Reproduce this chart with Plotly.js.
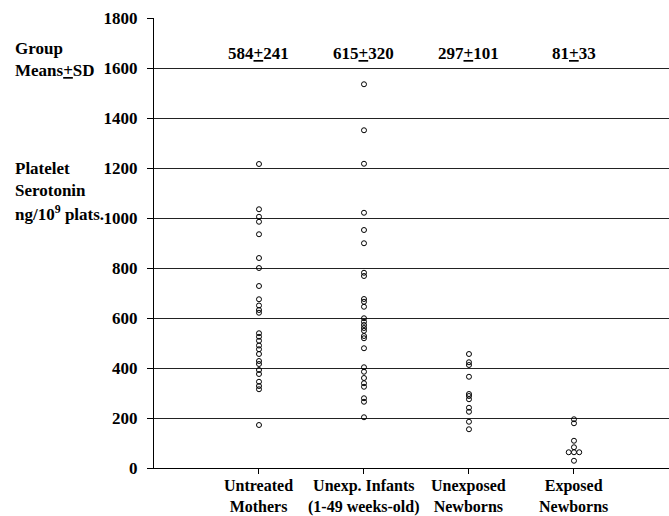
<!DOCTYPE html>
<html>
<head>
<meta charset="utf-8">
<script src="https://cdn.plot.ly/plotly-3.0.1.min.js"></script>
<style>html,body{margin:0;padding:0;background:#fff;}#chart{width:669px;height:516px;}</style>
</head>
<body>
<div id="chart"></div>
<script>
var categoriesLine1 = ["Untreated", "Unexp. Infants", "Unexposed", "Exposed"];
var categoriesLine2 = ["Mothers", "(1-49 weeks-old)", "Newborns", "Newborns"];
var groupMeans = ["584<u>+</u>241", "615<u>+</u>320", "297<u>+</u>101", "81<u>+</u>33"];

var untreatedMothers = [1216, 1035, 1005, 985, 935, 840, 800, 728, 675, 650, 632, 621, 539, 525, 509, 490, 475, 456, 428, 416, 392, 376, 345, 328, 315, 172];
var unexpInfants = [1535, 1351, 1217, 1021, 952, 899, 781, 768, 676, 665, 645, 599, 585, 572, 560, 549, 528, 519, 479, 403, 385, 360, 339, 325, 279, 265, 203];
var unexposedNewborns = [456, 423, 412, 365, 296, 288, 275, 241, 225, 185, 155];
var exposedNewborns = [195, 179, 109, 83, 63, 63, 63, 29];
var exposedJitter = [0, 0, 0, 0, -0.05, 0, 0.05, 0];

var yTicks = [0, 200, 400, 600, 800, 1000, 1200, 1400, 1600, 1800];

var groups = [untreatedMothers, unexpInfants, unexposedNewborns, exposedNewborns];
var jitters = [null, null, null, exposedJitter];

var FONT = '"Liberation Serif", "DejaVu Serif", "Noto Serif", Times, serif';

var traces = groups.map(function (vals, gi) {
  return {
    type: 'scatter',
    mode: 'markers',
    x: vals.map(function (v, i) { return gi + (jitters[gi] ? jitters[gi][i] : 0); }),
    y: vals,
    marker: { symbol: 'circle-open', size: 5, color: '#000', line: { width: 1, color: '#000' } },
    cliponaxis: false,
    showlegend: false,
    hoverinfo: 'y'
  };
});

var annotations = [];
groupMeans.forEach(function (t, i) {
  annotations.push({ x: i, y: 1660, xref: 'x', yref: 'y', text: '<b>' + t + '</b>', showarrow: false,
    font: { family: FONT, size: 17, color: '#000' }, xanchor: 'center', yanchor: 'middle' });
});
categoriesLine1.forEach(function (t, i) {
  annotations.push({ x: i, y: 0, xref: 'x', yref: 'y', yshift: -28, text: '<b>' + t + '<br>' + categoriesLine2[i] + '</b>', showarrow: false,
    font: { family: FONT, size: 16, color: '#000' }, xanchor: 'center', yanchor: 'middle', align: 'center' });
});
var sideLabels = [
  { t: 'Group', y: 1680 },
  { t: 'Means<u>+</u>SD', y: 1592 },
  { t: 'Platelet', y: 1200 },
  { t: 'Serotonin', y: 1112 },
  { t: 'ng/10<sup>9</sup> plats.', y: 1020 }
];
sideLabels.forEach(function (s) {
  annotations.push({ x: -0.274, y: s.y, xref: 'paper', yref: 'y', text: '<b>' + s.t + '</b>', showarrow: false,
    font: { family: FONT, size: 17, color: '#000' }, xanchor: 'left', yanchor: 'middle' });
});

var layout = {
  width: 669, height: 516,
  margin: { l: 154, r: 0, t: 18, b: 48 },
  paper_bgcolor: '#fff', plot_bgcolor: '#fff',
  showlegend: false,
  xaxis: {
    range: [-1, 3.905],
    tickvals: [0, 1, 2, 3],
    showticklabels: false,
    ticks: 'outside', ticklen: 5, tickcolor: '#000', tickwidth: 1,
    showgrid: false, zeroline: false,
    showline: true, linecolor: '#000', linewidth: 1
  },
  yaxis: {
    range: [0, 1800],
    tickvals: yTicks,
    ticktext: yTicks.map(function (v) { return '<b>' + v + '</b>'; }),
    tickfont: { family: FONT, size: 17, color: '#000' },
    ticks: 'outside', ticklen: 6, tickcolor: '#000', tickwidth: 1,
    ticklabelstandoff: 6,
    showgrid: true, gridcolor: '#222', gridwidth: 1,
    zeroline: false,
    showline: true, linecolor: '#000', linewidth: 1
  },
  annotations: annotations
};

Plotly.newPlot('chart', traces, layout, { staticPlot: true, displayModeBar: false });
</script>
</body>
</html>
